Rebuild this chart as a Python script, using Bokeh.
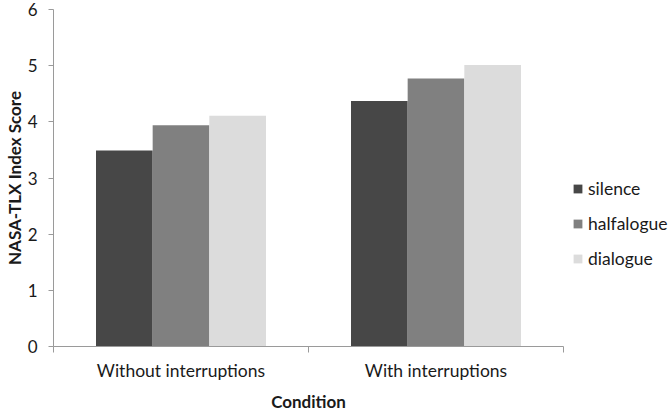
from bokeh.plotting import figure
from bokeh.models import ColumnDataSource, FixedTicker, Legend, LegendItem, Range1d
from bokeh.transform import dodge
from bokeh.embed import file_html
from bokeh.resources import INLINE

conditions = ["Without interruptions", "With interruptions"]
series = ["silence", "halfalogue", "dialogue"]
silence = [3.49, 4.37]
halfalogue = [3.94, 4.77]
dialogue = [4.11, 5.01]
colors = ["#474747", "#808080", "#dcdcdc"]
y_ticks = [0, 1, 2, 3, 4, 5, 6]
x_title = "Condition"
y_title = "NASA-TLX Index Score"

FONT = "Lato"
TEXT = "#1a1a1a"
AXIS = "#9a9a9a"

xpos = [i + 0.5 for i in range(len(conditions))]
source = ColumnDataSource(dict(x=xpos, silence=silence, halfalogue=halfalogue, dialogue=dialogue))

p = figure(frame_width=510, frame_height=337, output_backend="svg", toolbar_location=None,
           x_range=Range1d(0, len(conditions)), y_range=Range1d(0, 6),
           min_border_left=53, min_border_top=9, min_border_bottom=67, min_border_right=109)

bw = 2 / 9
renderers = []
for i, (name, col) in enumerate(zip(series, colors)):
    r = p.vbar(x=dodge("x", (i - 1) * bw, range=p.x_range), top=name, bottom=0, width=bw,
               source=source, fill_color=col, line_color=None)
    renderers.append(r)

p.xgrid.visible = False
p.ygrid.visible = False
p.outline_line_color = None
p.background_fill_color = "white"
p.border_fill_color = "white"

# x axis
xa = p.xaxis[0]
xa.ticker = FixedTicker(ticks=xpos, minor_ticks=list(range(len(conditions) + 1)))
xa.major_label_overrides = {x: c for x, c in zip(xpos, conditions)}
xa.major_tick_out = 0
xa.major_tick_in = 0
xa.minor_tick_out = 6
xa.minor_tick_in = 0
xa.minor_tick_line_color = AXIS
xa.axis_line_color = AXIS
xa.major_label_standoff = 7
xa.major_label_text_font = FONT
xa.major_label_text_font_size = "17.5px"
xa.major_label_text_color = TEXT
xa.axis_label = x_title
xa.axis_label_text_font = FONT
xa.axis_label_text_font_style = "bold"
xa.axis_label_text_font_size = "17px"
xa.axis_label_text_color = TEXT
xa.axis_label_standoff = 7

# y axis
ya = p.yaxis[0]
ya.ticker = FixedTicker(ticks=y_ticks)
ya.major_tick_out = 5
ya.major_tick_in = 0
ya.minor_tick_line_color = None
ya.major_tick_line_color = AXIS
ya.axis_line_color = AXIS
ya.major_label_standoff = 11
ya.major_label_text_font = FONT
ya.major_label_text_font_size = "17px"
ya.major_label_text_color = TEXT
ya.axis_label = y_title
ya.axis_label_text_font = FONT
ya.axis_label_text_font_style = "bold"
ya.axis_label_text_font_size = "17px"
ya.axis_label_text_color = TEXT
ya.axis_label_standoff = 0

legend = Legend(items=[LegendItem(label=s, renderers=[r]) for s, r in zip(series, renderers)],
                location=(9, 77), padding=0, margin=0, spacing=14,
                glyph_width=11, glyph_height=11, label_height=20, label_standoff=5,
                label_text_font=FONT, label_text_font_size="17.5px", label_text_color=TEXT,
                border_line_color=None, background_fill_alpha=0)
p.add_layout(legend, "right")

open("out.html", "w").write(file_html(p, INLINE))
